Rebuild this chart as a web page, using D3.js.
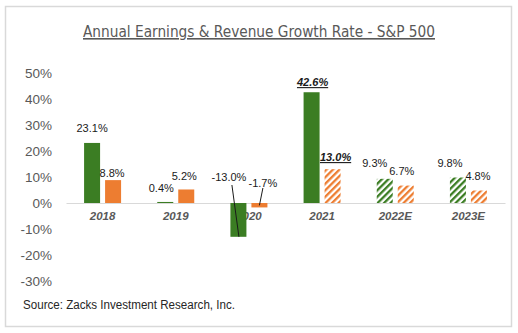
<!DOCTYPE html>
<html>
<head>
<meta charset="utf-8">
<title>Annual Earnings & Revenue Growth Rate</title>
<script src="https://cdn.jsdelivr.net/npm/d3@7"></script>
<style>
  body { margin: 0; background: #fff; }
  text { font-family: "Liberation Sans", Arial, sans-serif; }
</style>
</head>
<body>
<svg width="518" height="333"></svg>
<script>
// data
var years = ["2018", "2019", "2020", "2021", "2022E", "2023E"];
var earnings = [23.1, 0.4, -13.0, 42.6, 9.3, 9.8];
var revenue = [8.8, 5.2, -1.7, 13.0, 6.7, 4.8];
var earningsEstimated = [false, false, false, false, true, true];
var revenueEstimated = [false, false, false, true, true, true];
var yTicks = [-30, -20, -10, 0, 10, 20, 30, 40, 50];

var green = "#3b7d23", orange = "#ed7d31";

var svg = d3.select("svg");

// outer frame
svg.append("rect")
  .attr("x", 5.5).attr("y", 6.5).attr("width", 506).attr("height", 320)
  .attr("fill", "#fff").attr("stroke", "#d9d9d9").attr("stroke-width", 1.5);

// hatch patterns
var defs = svg.append("defs");
[["hatchGreen", green], ["hatchOrange", orange]].forEach(function(p) {
  var pat = defs.append("pattern")
    .attr("id", p[0])
    .attr("patternUnits", "userSpaceOnUse")
    .attr("width", 4.6).attr("height", 4.6)
    .attr("patternTransform", "rotate(45)");
  pat.append("rect").attr("width", 4.6).attr("height", 4.6).attr("fill", "#fff");
  pat.append("rect").attr("width", 2.3).attr("height", 4.6).attr("fill", p[1]);
});

// title
svg.append("text")
  .attr("x", 259).attr("y", 37)
  .attr("text-anchor", "middle")
  .attr("fill", "#595959")
  .attr("font-size", 16)
  .attr("textLength", 352).attr("lengthAdjust", "spacingAndGlyphs")
  .style("font-family", "'DejaVu Sans Condensed', 'DejaVu Sans', sans-serif")
  .style("text-decoration", "underline")
  .text("Annual Earnings & Revenue Growth Rate - S&P 500");

var x = d3.scaleBand().domain(years).range([66, 505]);
var y = d3.scaleLinear().domain([-30, 50]).range([281, 73]);

var barW = 16, off = 10.5;

// y axis labels
var yAxis = svg.append("g")
  .attr("transform", "translate(55,0)")
  .call(d3.axisLeft(y).tickValues(yTicks).tickSize(0).tickPadding(3)
    .tickFormat(function(d) { return d + "%"; }));
yAxis.select(".domain").remove();
yAxis.selectAll("text")
  .attr("fill", "#595959")
  .attr("font-size", 13.5)
  .style("font-family", "Liberation Sans, Arial, sans-serif");

// x axis with zero line
var xAxis = svg.append("g")
  .attr("transform", "translate(0," + y(0) + ")")
  .call(d3.axisBottom(x).tickSize(0).tickSizeOuter(0).tickPadding(9));
xAxis.select(".domain").attr("stroke", "#d9d9d9").attr("stroke-width", 1.2);
xAxis.selectAll("text")
  .attr("fill", "#595959")
  .attr("font-size", 11.5)
  .attr("font-style", "italic")
  .attr("font-weight", "bold")
  .style("font-family", "Liberation Sans, Arial, sans-serif");

// bars
function drawBars(values, est, dx, color, hatchId) {
  svg.append("g").selectAll("rect")
    .data(values)
    .join("rect")
    .attr("x", function(d, i) { return x(years[i]) + x.bandwidth() / 2 + dx - barW / 2; })
    .attr("y", function(d) { return y(Math.max(0, d)); })
    .attr("width", barW)
    .attr("height", function(d) { return Math.abs(y(d) - y(0)); })
    .attr("fill", function(d, i) { return est[i] ? "url(#" + hatchId + ")" : color; });
}
drawBars(earnings, earningsEstimated, -off, green, "hatchGreen");
drawBars(revenue, revenueEstimated, off, orange, "hatchOrange");

// label nudges [dx, dy] relative to bar centre / top
var earnNudge = [[0, -15], [-4, -14], [-9.5, -26], [1, -10], [-10, -16], [-8, -14.5]];
var revNudge = [[-1, -7], [-2, -13.5], [3.5, -20], [3, -12], [-4, -14.5], [-1, -14.5]];

function drawLabels(values, dx, nudge) {
  svg.append("g").selectAll("text")
    .data(values)
    .join("text")
    .attr("x", function(d, i) { return x(years[i]) + x.bandwidth() / 2 + dx + nudge[i][0]; })
    .attr("y", function(d, i) { return y(Math.max(0, d)) + nudge[i][1]; })
    .attr("dy", "0.35em")
    .attr("text-anchor", "middle")
    .attr("font-size", 11)
    .attr("fill", "#1a1a1a")
    .attr("font-weight", function(d, i) { return years[i] === "2021" ? "bold" : null; })
    .attr("font-style", function(d, i) { return years[i] === "2021" ? "italic" : null; })
    .style("text-decoration", function(d, i) { return years[i] === "2021" ? "underline" : null; })
    .text(function(d) { return d.toFixed(1) + "%"; });
}
drawLabels(earnings, -off, earnNudge);
drawLabels(revenue, off, revNudge);

// leader lines for the 2020 labels
var c20 = x("2020") + x.bandwidth() / 2;
svg.append("line")
  .attr("x1", c20 - off - 6.5).attr("y1", y(0) - 18)
  .attr("x2", c20 - off + 0.5).attr("y2", y(earnings[2]))
  .attr("stroke", "#1a1a1a").attr("stroke-width", 1);
svg.append("line")
  .attr("x1", c20 + off + 3.5).attr("y1", y(0) - 15)
  .attr("x2", c20 + off).attr("y2", y(revenue[2]) - 2)
  .attr("stroke", "#1a1a1a").attr("stroke-width", 1);

// source
svg.append("text")
  .attr("x", 23).attr("y", 309)
  .attr("fill", "#262626")
  .attr("font-size", 12.5)
  .attr("textLength", 212).attr("lengthAdjust", "spacingAndGlyphs")
  .text("Source: Zacks Investment Research, Inc.");
</script>
</body>
</html>
